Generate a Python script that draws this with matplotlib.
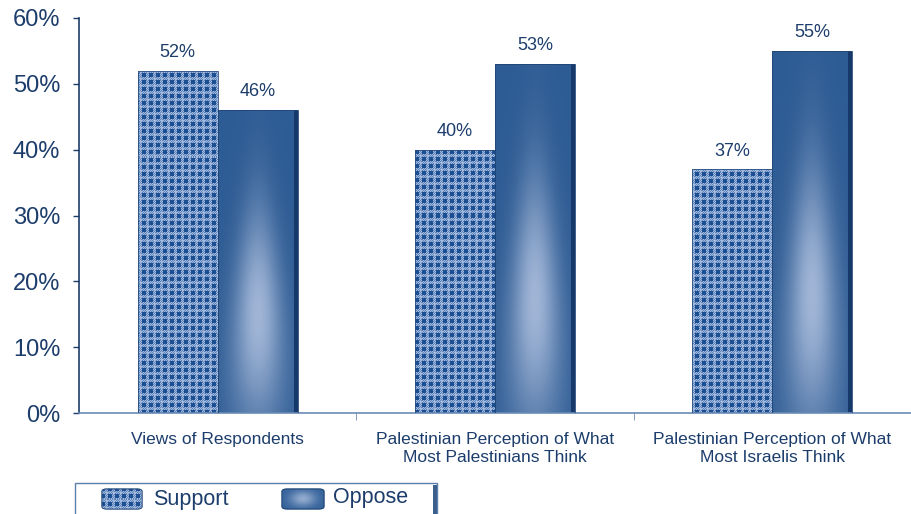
import numpy as np
import matplotlib
matplotlib.use("Agg")
import matplotlib.pyplot as plt
from matplotlib.patches import Rectangle, FancyBboxPatch

# data
categories = ["Views of Respondents",
              "Palestinian Perception of What\nMost Palestinians Think",
              "Palestinian Perception of What\nMost Israelis Think"]
support = [52, 40, 37]
oppose = [46, 53, 55]
series_names = ["Support", "Oppose"]
yticks = [0, 10, 20, 30, 40, 50, 60]

NAVY = "#1C3D6B"
W, H = 911, 514

plt.rcParams['font.family'] = ['Liberation Sans', 'DejaVu Sans']

fig = plt.figure(figsize=(W / 100, H / 100), dpi=100)
ax = fig.add_axes([79 / W, (H - 413) / H, (911 - 79) / W, (413 - 18) / H])

x = np.arange(len(categories))
bw = 0.288


def checker(h, w):
    # gingham style tile, one array cell ~ one screen pixel
    dark = np.array([0.11, 0.31, 0.57])
    mid = np.array([0.36, 0.51, 0.73])
    light = np.array([0.64, 0.73, 0.87])
    tile = np.zeros((7, 7, 3))
    for r in range(7):
        for c in range(7):
            if r < 4 and c < 4:
                tile[r, c] = dark
            elif r >= 5 and c >= 5:
                tile[r, c] = light
            else:
                tile[r, c] = mid if (r + c) % 2 == 0 else light
    reps = (h // 7 + 1, w // 7 + 1, 1)
    return np.tile(tile, reps)[:h, :w]


def gradient(h, w, shadow=True):
    dark = np.array([0.18, 0.36, 0.58])
    light = np.array([0.68, 0.75, 0.87])
    u = np.linspace(0, 1, w)[None, :]
    t = np.linspace(1, 0, h)[:, None]  # 1 = top
    sx = 0.16 + 0.22 * (1 - t)
    hx = np.exp(-((u - 0.5) / sx) ** 2)
    vy = np.exp(-((t - 0.32) / 0.36) ** 2)
    k = (hx * vy * 0.9)[..., None]
    img = dark + k * (light - dark)
    if shadow:
        img[:, -4:] = [0.09, 0.22, 0.42]
    return img


ax.set_xlim(-0.5, 2.5)
ax.set_ylim(0, 60)

sup_bars = ax.bar(x - bw / 2, support, bw, facecolor="none",
                  edgecolor="#2A4F80", linewidth=0.6, zorder=3)
opp_bars = ax.bar(x + bw / 2, oppose, bw, facecolor="none",
                  edgecolor="#1F4576", linewidth=0.6, zorder=3)

pat = checker(395, 832)
for b in sup_bars:
    im = ax.imshow(pat, extent=(-0.5, 2.5, 0, 60), aspect="auto",
                   interpolation="nearest", zorder=2, origin="upper")
    im.set_clip_path(b)

for b in opp_bars:
    x0, y0 = b.get_x(), b.get_y()
    hpx = int(b.get_height() * 395 / 60)
    im = ax.imshow(gradient(hpx, 80),
                   extent=(x0, x0 + b.get_width(), y0, y0 + b.get_height()),
                   aspect="auto", interpolation="bilinear", zorder=2)
    im.set_clip_path(b)

ax.set_xlim(-0.5, 2.5)
ax.set_ylim(0, 60)

for bars, vals in ((sup_bars, support), (opp_bars, oppose)):
    for b, v in zip(bars, vals):
        ax.annotate(f"{v}%", (b.get_x() + b.get_width() / 2, v),
                    xytext=(0, 7), textcoords="offset points",
                    ha="center", va="bottom", fontsize=13, color=NAVY)

ax.set_yticks(yticks)
ax.set_yticklabels([f"{t}%" for t in yticks])
ax.tick_params(axis="y", length=4.5, width=1, color=NAVY, pad=9,
               labelsize=17, labelcolor=NAVY)
ax.set_xticks(x)
ax.set_xticklabels(categories)
ax.tick_params(axis="x", length=0, pad=14, labelsize=12.5, labelcolor=NAVY)
ax.set_xticks([0.5, 1.5], minor=True)
ax.tick_params(axis="x", which="minor", length=5, color="#6A8BB5")
for lab in ax.get_xticklabels():
    lab.set_linespacing(1.25)

for s in ("top", "right"):
    ax.spines[s].set_visible(False)
ax.spines["left"].set_color(NAVY)
ax.spines["left"].set_linewidth(1.2)
ax.spines["bottom"].set_color("#6A8BB5")
ax.spines["bottom"].set_linewidth(1.2)


# legend box at the foot of the figure (pixel coordinates)
def fx(px):
    return px / W


def fy(py):
    return 1 - py / H


fig.patches.append(Rectangle((fx(75), fy(530)), fx(437) - fx(75), fy(483) - fy(530),
                             transform=fig.transFigure, facecolor="white",
                             edgecolor="#5A7FAA", linewidth=1.0, zorder=-2))
fig.patches.append(Rectangle((fx(433), fy(530)), fx(437) - fx(433), fy(485) - fy(530),
                             transform=fig.transFigure, facecolor="#3D5F8C",
                             edgecolor="none", zorder=-1))

sw_ax = fig.add_axes([fx(101), fy(510), fx(143) - fx(101), fy(488) - fy(510)])
sw_ax.set_axis_off()
sw_ax.set_zorder(5)
sw_ax.imshow(checker(22, 42), aspect="auto", interpolation="nearest",
             extent=(0, 1, 0, 1))
sw_ax.set_xlim(0, 1)
sw_ax.set_ylim(0, 1)
clip = FancyBboxPatch((0.02, 0.04), 0.96, 0.92, boxstyle="round,pad=0,rounding_size=0.12",
                      transform=sw_ax.transAxes, facecolor="none",
                      edgecolor="#2A4F80", linewidth=0.8)
sw_ax.add_patch(clip)
sw_ax.images[0].set_clip_path(clip)

sw2 = fig.add_axes([fx(281), fy(510), fx(325) - fx(281), fy(488) - fy(510)])
sw2.set_axis_off()
sw2.set_zorder(5)
u = np.linspace(0, 1, 120)[None, :]
v = np.linspace(0, 1, 60)[:, None]
k = (np.exp(-((u - 0.5) / 0.3) ** 2) * np.exp(-((v - 0.5) / 0.35) ** 2))[..., None]
g = np.array([0.20, 0.38, 0.60]) + 0.8 * k * (np.array([0.66, 0.74, 0.86]) - np.array([0.20, 0.38, 0.60]))
sw2.imshow(g, aspect="auto", interpolation="bilinear", extent=(0, 1, 0, 1))
sw2.set_xlim(0, 1)
sw2.set_ylim(0, 1)
clip2 = FancyBboxPatch((0.02, 0.04), 0.96, 0.92, boxstyle="round,pad=0,rounding_size=0.12",
                       transform=sw2.transAxes, facecolor="none",
                       edgecolor="#1F4576", linewidth=0.8)
sw2.add_patch(clip2)
sw2.images[0].set_clip_path(clip2)

fig.text(fx(153), fy(499), series_names[0], fontsize=15.5, color=NAVY, va="center")
fig.text(fx(333), fy(498), series_names[1], fontsize=15.5, color=NAVY, va="center")

fig.savefig("out.png", dpi=100)
